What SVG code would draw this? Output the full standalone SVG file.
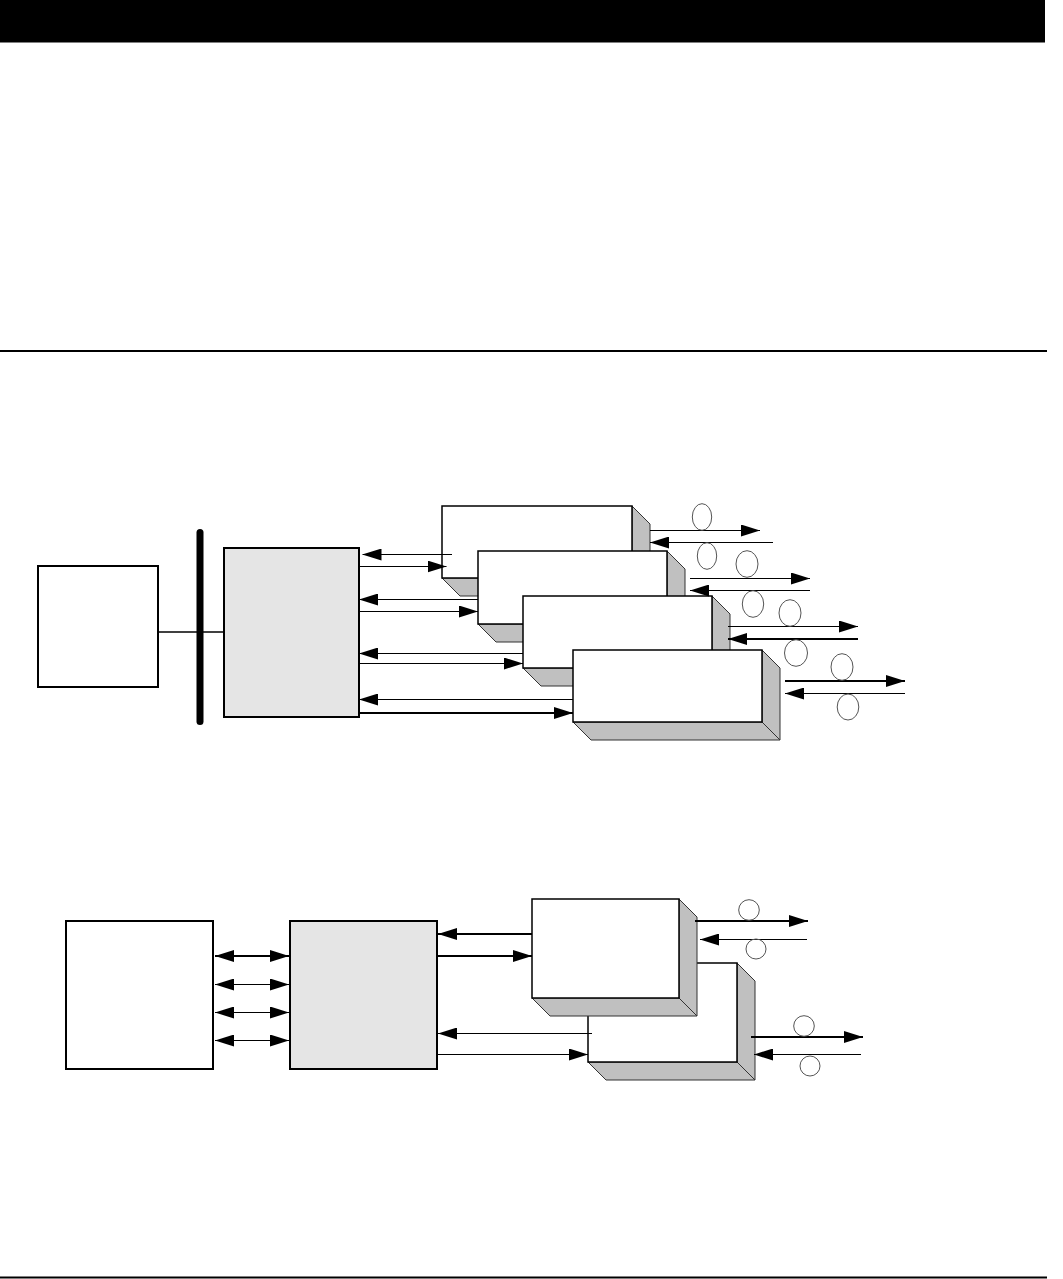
<svg xmlns="http://www.w3.org/2000/svg" width="1063" height="1279" viewBox="0 0 1063 1279">
<style>
.box{fill:#ffffff;stroke:#000;stroke-width:2}
.gbox{fill:#e5e5e5;stroke:#000;stroke-width:2}
.front{fill:#ffffff;stroke:#000;stroke-width:1.5}
.shade{fill:#c0c0c0;stroke:#333;stroke-width:1;stroke-linejoin:miter}
.ln{fill:none;stroke:#000;stroke-width:1.1}
.thk{fill:none;stroke:#000;stroke-width:2}
.ell{fill:none;stroke:#555;stroke-width:1}
</style>
<defs>
<marker id="ah" viewBox="0 0 19 12" refX="19" refY="6" markerWidth="19" markerHeight="12" markerUnits="userSpaceOnUse" orient="auto-start-reverse">
<path d="M0,0 L19,6 L0,12 Z" fill="#000"/>
</marker>
</defs>
<rect width="1063" height="1279" fill="#fff"/>
<!-- page decorations -->
<rect x="0" y="0" width="1045" height="42.5" fill="#000"/>
<rect x="0" y="350" width="1047" height="2" fill="#000"/>
<rect x="0" y="1276.5" width="1047" height="2" fill="#000"/>

<!-- Top diagram nodes -->
<g id="host1"><rect class="box" x="38" y="566" width="120" height="121"/></g>
<g id="bus"><line x1="200" y1="532.5" x2="200" y2="721.5" stroke="#000" stroke-width="7" stroke-linecap="round"/></g>
<g id="ctrl1"><rect class="gbox" x="224" y="548" width="135" height="169"/></g>
<g id="mod1">
<polygon class="shade" points="632,506 650,524 650,596 632,578"/>
<polygon class="shade" points="442,578 632,578 650,596 460,596"/>
<rect class="front" x="442" y="506" width="190" height="72"/>
</g>
<g id="mod2">
<polygon class="shade" points="667,551 685,569 685,642 667,624"/>
<polygon class="shade" points="478,624 667,624 685,642 496,642"/>
<rect class="front" x="478" y="551" width="189" height="73"/>
</g>
<g id="mod3">
<polygon class="shade" points="712,596 730,614 730,686 712,668"/>
<polygon class="shade" points="523,668 712,668 730,686 541,686"/>
<rect class="front" x="523" y="596" width="189" height="72"/>
</g>
<g id="mod4">
<polygon class="shade" points="762,650 780,668 780,740 762,722"/>
<polygon class="shade" points="573,722 762,722 780,740 591,740"/>
<rect class="front" x="573" y="650" width="189" height="72"/>
</g>

<!-- Bottom diagram nodes -->
<g id="host2"><rect class="box" x="66" y="921" width="147" height="148"/></g>
<g id="ctrl2"><rect class="gbox" x="290" y="921" width="147" height="148"/></g>
<g id="modB">
<polygon class="shade" points="737,963 755,981 755,1080 737,1062"/>
<polygon class="shade" points="588,1062 737,1062 755,1080 606,1080"/>
<rect class="front" x="588" y="963" width="149" height="99"/>
</g>
<g id="modA">
<polygon class="shade" points="679,899 697,917 697,1016 679,998"/>
<polygon class="shade" points="532,998 679,998 697,1016 550,1016"/>
<rect class="front" x="532" y="899" width="147" height="99"/>
</g>

<!-- connectors -->
<g id="connectors">
<line x1="158" y1="632" x2="224" y2="632" stroke="#000" stroke-width="1.6"/>
<line class="ln" x1="452" y1="554.5" x2="362.5" y2="554.5" marker-end="url(#ah)"/>
<line class="ln" x1="359" y1="566.5" x2="446.5" y2="566.5" marker-end="url(#ah)"/>
<line class="ln" x1="478" y1="599.5" x2="359" y2="599.5" marker-end="url(#ah)"/>
<line class="ln" x1="359" y1="611.5" x2="478" y2="611.5" marker-end="url(#ah)"/>
<line class="ln" x1="523" y1="653.5" x2="359" y2="653.5" marker-end="url(#ah)"/>
<line class="ln" x1="359" y1="663.5" x2="523" y2="663.5" marker-end="url(#ah)"/>
<line class="ln" x1="573" y1="699.5" x2="359" y2="699.5" marker-end="url(#ah)"/>
<line class="thk" x1="359" y1="713" x2="573" y2="713" marker-end="url(#ah)"/>

<line class="ln" x1="650" y1="530.5" x2="760" y2="530.5" marker-end="url(#ah)"/>
<line class="ln" x1="773" y1="542.5" x2="650" y2="542.5" marker-end="url(#ah)"/>
<line class="ln" x1="690" y1="578.5" x2="810" y2="578.5" marker-end="url(#ah)"/>
<line class="ln" x1="810" y1="590.5" x2="690" y2="590.5" marker-end="url(#ah)"/>
<line class="ln" x1="728" y1="626.5" x2="858" y2="626.5" marker-end="url(#ah)"/>
<line class="thk" x1="858" y1="639" x2="728" y2="639" marker-end="url(#ah)"/>
<line class="thk" x1="785" y1="681" x2="905" y2="681" marker-end="url(#ah)"/>
<line class="ln" x1="905" y1="693.5" x2="785" y2="693.5" marker-end="url(#ah)"/>

<line class="thk" x1="215" y1="956" x2="289" y2="956" marker-start="url(#ah)" marker-end="url(#ah)"/>
<line class="ln" x1="215" y1="984.5" x2="289" y2="984.5" marker-start="url(#ah)" marker-end="url(#ah)"/>
<line class="ln" x1="215" y1="1012.5" x2="289" y2="1012.5" marker-start="url(#ah)" marker-end="url(#ah)"/>
<line class="ln" x1="215" y1="1040.5" x2="289" y2="1040.5" marker-start="url(#ah)" marker-end="url(#ah)"/>

<line class="thk" x1="532" y1="934" x2="438" y2="934" marker-end="url(#ah)"/>
<line class="thk" x1="437" y1="956" x2="532" y2="956" marker-end="url(#ah)"/>
<line class="ln" x1="592" y1="1033.5" x2="438" y2="1033.5" marker-end="url(#ah)"/>
<line class="ln" x1="437" y1="1054.5" x2="588" y2="1054.5" marker-end="url(#ah)"/>

<line class="thk" x1="695" y1="921" x2="808" y2="921" marker-end="url(#ah)"/>
<line class="ln" x1="807" y1="939.5" x2="700" y2="939.5" marker-end="url(#ah)"/>
<line class="thk" x1="751" y1="1037" x2="863" y2="1037" marker-end="url(#ah)"/>
<line class="ln" x1="861" y1="1054.5" x2="754" y2="1054.5" marker-end="url(#ah)"/>
</g>

<!-- ellipses -->
<g id="marks">
<ellipse class="ell" cx="702" cy="517" rx="9.7" ry="13.3"/>
<ellipse class="ell" cx="707" cy="556" rx="9.7" ry="13.3"/>
<ellipse class="ell" cx="747" cy="564" rx="11" ry="13.3"/>
<ellipse class="ell" cx="753" cy="604" rx="10.7" ry="13.3"/>
<ellipse class="ell" cx="790" cy="613" rx="11" ry="13.3"/>
<ellipse class="ell" cx="796" cy="653" rx="11.5" ry="13.3"/>
<ellipse class="ell" cx="842" cy="667" rx="11" ry="13.3"/>
<ellipse class="ell" cx="848" cy="707" rx="10.8" ry="13"/>
<circle class="ell" cx="749" cy="910" r="10.3"/>
<circle class="ell" cx="756" cy="949" r="10"/>
<circle class="ell" cx="804" cy="1026" r="10.3"/>
<circle class="ell" cx="810" cy="1066" r="10"/>
</g>
</svg>
